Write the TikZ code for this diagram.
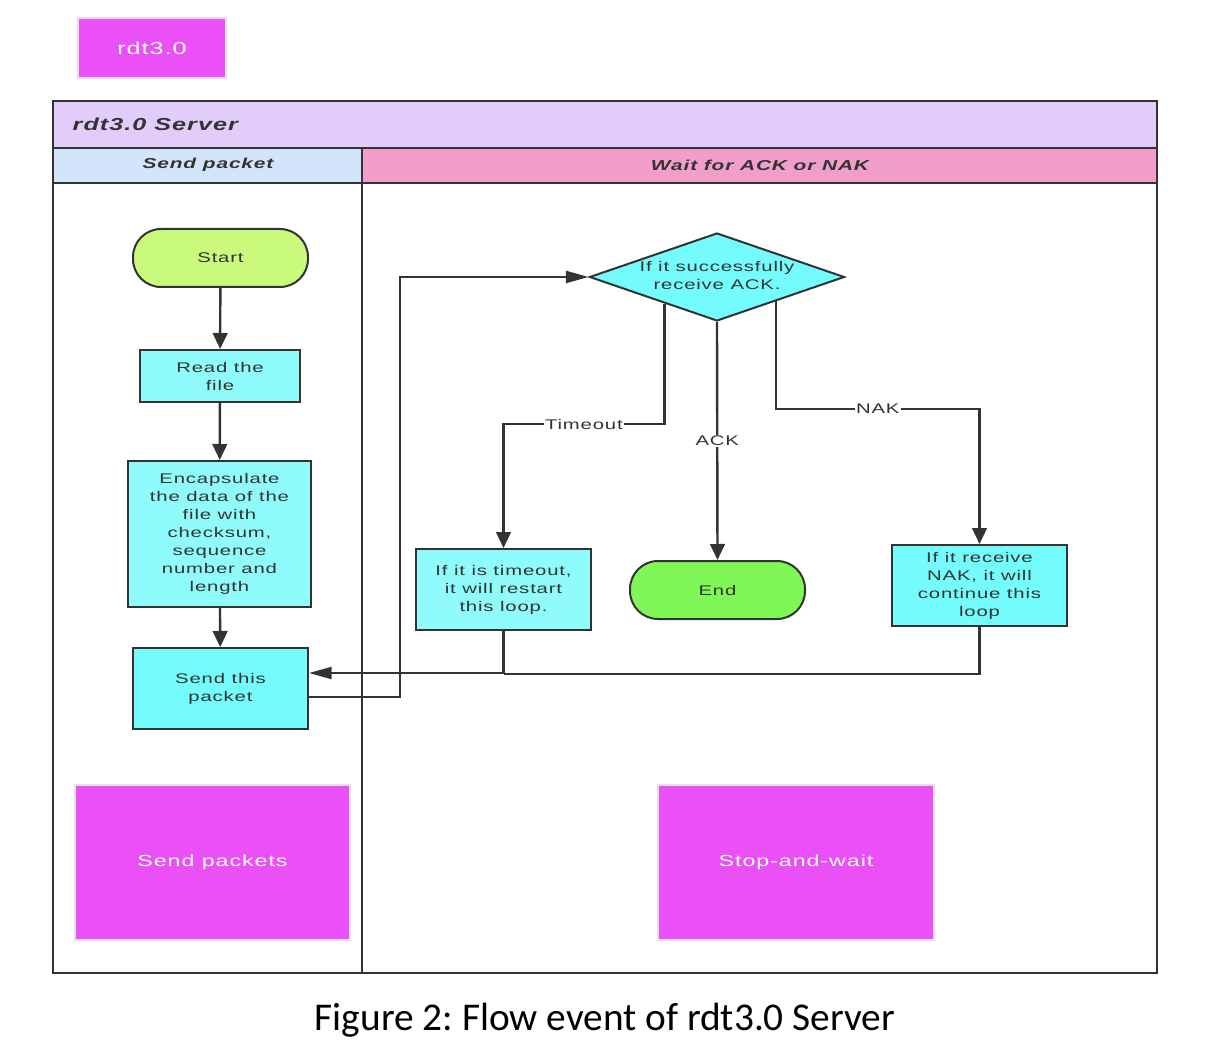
\documentclass[tikz,border=0pt]{standalone}
\usepackage{fontspec}
\setmainfont[FakeStretch=1.45,LetterSpace=6]{Liberation Sans}
\newfontfamily\capfont{Carlito}
\usetikzlibrary{shapes.geometric,arrows.meta,calc}
\definecolor{lc}{HTML}{333333}
\definecolor{tc}{HTML}{333333}
\definecolor{mag}{HTML}{EB4FF6}
\definecolor{mgb}{HTML}{E2E2E2}
\definecolor{lav}{HTML}{E2CCF9}
\definecolor{hblue}{HTML}{D2E5FB}
\definecolor{hpink}{HTML}{F19FCA}
\definecolor{lime}{HTML}{C9FA7B}
\definecolor{green2}{HTML}{7FF757}
\definecolor{cyana}{HTML}{8FFBFB}
\definecolor{cyanb}{HTML}{74FBFB}
\frenchspacing
\begin{document}
\begin{tikzpicture}[x=0.75pt,y=-0.75pt,
  box/.style={draw=lc, line width=1.5pt, text=tc, align=center, inner sep=2pt,
    font=\fontsize{10.5}{13.5}\selectfont},
  term/.style={box, rounded corners=21pt},
  magbox/.style={fill=mag, draw=mgb, line width=1.5pt, text=white, align=center},
  conn/.style={draw=lc, line width=1.8pt, -{Triangle[length=12pt,width=11pt]}},
  connlong/.style={draw=lc, line width=1.8pt, -{Triangle[length=17pt,width=9pt]}},
  link/.style={draw=lc, line width=1.8pt},
  lbl/.style={fill=white, inner sep=1pt, text=tc, font=\fontsize{10.5}{12}\selectfont},
  hdr/.style={text=tc, font=\fontsize{10.8}{12}\selectfont\bfseries\itshape}
]
\useasboundingbox (0,0) rectangle (1222,1052);

% top label
\node[magbox, minimum width=111pt, minimum height=45pt, font=\fontsize{13}{15}\selectfont] (rdt) at (152,48) {rdt3.0};

% pool and lanes
\fill[lav] (53,101) rectangle (1157,148);
\fill[hblue] (53,148) rectangle (362,183);
\fill[hpink] (362,148) rectangle (1157,183);
\draw[lc, line width=1.5pt] (53,101) rectangle (1157,973);
\draw[lc, line width=1.5pt] (53,148) -- (1157,148);
\draw[lc, line width=1.5pt] (53,183) -- (1157,183);
\draw[lc, line width=1.5pt] (362,148) -- (362,973);
\node[text=tc, anchor=west, font=\fontsize{13}{15}\selectfont\bfseries\itshape] (title) at (68,124) {rdt3.0 Server};
\node[hdr] (h1) at (208,165) {Send packet};
\node[hdr] (h2) at (760,165) {Wait for ACK or NAK};

% left lane
\node[term, fill=lime, minimum width=131.25pt, minimum height=43.5pt] (start) at (220.5,258) {Start};
\node[box, fill=cyana, minimum width=120pt, minimum height=39pt] (read) at (220,376) {Read the\\file};
\node[box, fill=cyana, minimum width=137.25pt, minimum height=109.5pt] (enc) at (219.5,534)
  {Encapsulate\\the data of the\\file with\\checksum,\\sequence\\number and\\length};
\node[box, fill=cyanb, minimum width=131.25pt, minimum height=60.75pt] (send) at (220.5,688.5) {Send this\\packet};

% right lane
\node[diamond, draw=lc, fill=cyanb, line width=1.5pt, minimum width=191.25pt, minimum height=66pt, inner sep=0pt] (dia) at (717,277) {};
\node[text=tc, align=center, font=\fontsize{10.5}{13.5}\selectfont] (diat) at (717,275) {If it successfully\\receive ACK.};
\node[box, fill=cyana, minimum width=131.25pt, minimum height=60.75pt] (tbox) at (503.5,589.5) {If it is timeout,\\it will restart\\this loop.};
\node[term, fill=green2, minimum width=131.25pt, minimum height=43.5pt] (end) at (717.5,590) {End};
\node[box, fill=cyanb, minimum width=131.25pt, minimum height=60.75pt] (nak) at (979.5,585.5) {If it receive\\NAK, it will\\continue this\\loop};

% bottom boxes
\node[magbox, minimum width=206.25pt, minimum height=116.25pt, font=\fontsize{12}{14}\selectfont] (sp) at (212.5,862.5) {Send packets};
\node[magbox, minimum width=207pt, minimum height=116.25pt, font=\fontsize{12}{14}\selectfont] (sw) at (796,862.5) {Stop-and-wait};

% connectors
\draw[conn] (start) -- (read);
\draw[conn] (read) -- (enc);
\draw[conn] (enc) -- (send);
\draw[connlong] ($(send.east)+(0,8.5)$) -- ++(91,0) |- (dia.west);
\draw[conn] ($(dia.west)!0.59!(dia.south)$) |- node[lbl, pos=0.75] {Timeout} ($(tbox.north)+(0,-124)$) -- (tbox.north);
\draw[conn] (dia.south) -- node[lbl, pos=0.5] {ACK} (end.north);
\draw[conn] ($(dia.south)!0.46!(dia.east)$) |- node[lbl, pos=0.75] {NAK} ($(nak.north)+(0,-135)$) -- (nak.north);
\draw[connlong] (tbox.south) |- ($(send.east)+(0,-15.5)$);
\draw[link] (nak.south) |- ($(tbox.south)+(0,43)$);

% caption
\node[font=\capfont\fontsize{29.5}{34}\selectfont, text=black] (cap) at (605,1020) {Figure 2: Flow event of rdt3.0 Server};
\end{tikzpicture}
\end{document}
